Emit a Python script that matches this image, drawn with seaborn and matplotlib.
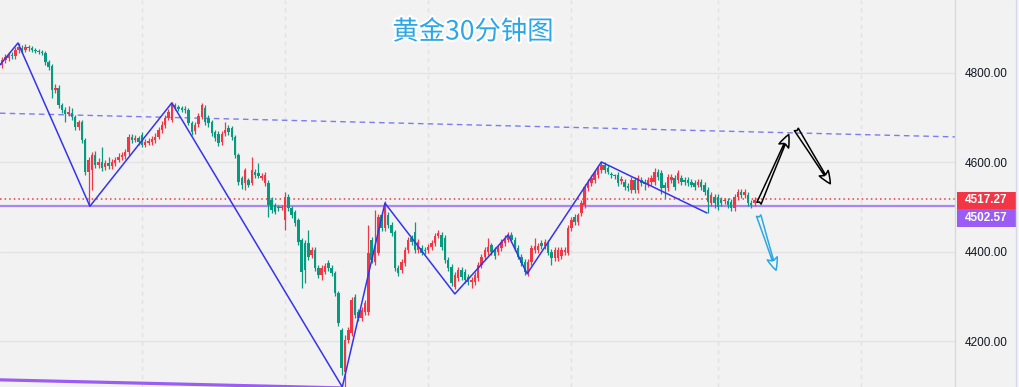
import numpy as np
import matplotlib
matplotlib.use("Agg")
import matplotlib.pyplot as plt
import seaborn as sns
from matplotlib.patches import FancyArrowPatch, Rectangle
import matplotlib.transforms as mtransforms
import matplotlib.patheffects as pe

# ---------------- data (30-min gold candles) ----------------
opens = [4818,4829,4833,4840,4838,4851,4856,4851,4858,4856,
         4851,4849,4847,4845,4824,4815,4762,4766,4728,4717,
         4708,4710,4701,4679,4690,4650,4579,4583,4617,4594,
         4601,4590,4599,4592,4599,4605,4612,4614,4623,4657,
         4650,4655,4661,4639,4643,4646,4650,4657,4672,4684,
         4699,4695,4728,4724,4722,4719,4717,4688,4670,4686,
         4701,4722,4699,4690,4668,4664,4646,4666,4677,4677,
         4657,4617,4565,4554,4561,4554,4579,4576,4565,4554,
         4554,4516,4505,4500,4498,4471,4523,4498,4489,4471,
         4427,4420,4420,4393,4404,4364,4348,4355,4375,4364,
         4353,4308,4225,4132,4203,4219,4299,4266,4252,4266,
         4266,4427,4377,4398,4482,4453,4482,4460,4444,4364,
         4360,4375,4404,4431,4444,4404,4409,4404,4404,4411,
         4420,4436,4438,4431,4382,4366,4322,4342,4360,4355,
         4344,4333,4333,4342,4371,4389,4400,4415,4404,4400,
         4409,4420,4427,4438,4427,4409,4389,4377,4353,4377,
         4404,4404,4420,4413,4420,4400,4386,4386,4391,4400,
         4398,4453,4478,4467,4487,4505,4543,4554,4561,4572,
         4583,4594,4588,4574,4570,4572,4558,4556,4547,4538,
         4561,4538,4561,4556,4552,4556,4556,4579,4576,4550,
         4543,4561,4565,4561,4565,4561,4561,4556,4554,4550,
         4556,4550,4538,4509,4523,4523,4516,4514,4514,4512,
         4498,4523,4534,4527,4527,4509,4509]
closes = [4829,4836,4840,4838,4851,4858,4851,4858,4856,4851,
          4849,4847,4845,4824,4813,4762,4766,4728,4717,4708,
          4713,4701,4679,4690,4650,4579,4605,4617,4594,4601,
          4588,4599,4592,4601,4605,4612,4617,4623,4657,4650,
          4655,4646,4639,4646,4648,4652,4657,4672,4684,4699,
          4713,4733,4724,4719,4717,4717,4688,4668,4684,4704,
          4728,4690,4688,4666,4655,4643,4664,4672,4668,4657,
          4617,4556,4550,4583,4550,4583,4572,4570,4570,4572,
          4505,4494,4489,4498,4500,4523,4498,4482,4465,4422,
          4355,4360,4389,4404,4364,4348,4364,4368,4364,4353,
          4308,4241,4141,4203,4225,4293,4259,4252,4270,4286,
          4398,4382,4404,4478,4453,4509,4460,4442,4364,4353,
          4377,4404,4427,4422,4404,4422,4398,4402,4411,4420,
          4436,4442,4411,4382,4364,4330,4348,4360,4344,4337,
          4333,4337,4348,4371,4389,4404,4411,4400,4391,4409,
          4422,4431,4438,4427,4409,4389,4375,4355,4377,4409,
          4413,4413,4413,4422,4398,4386,4404,4404,4404,4404,
          4453,4471,4467,4482,4509,4545,4556,4565,4576,4588,
          4594,4583,4579,4572,4569,4554,4563,4545,4543,4561,
          4538,4565,4554,4552,4561,4565,4579,4567,4543,4543,
          4567,4567,4545,4576,4556,4556,4554,4550,4545,4556,
          4545,4534,4512,4527,4509,4500,4509,4516,4505,4498,
          4523,4534,4527,4534,4509,4505,4517]
highs = [4836,4842,4847,4846,4858,4867,4862,4865,4863,4860,
         4855,4853,4852,4850,4829,4820,4775,4772,4733,4724,
         4726,4722,4706,4695,4694,4655,4612,4623,4625,4610,
         4634,4606,4612,4608,4612,4620,4624,4630,4664,4664,
         4662,4660,4668,4652,4654,4660,4665,4679,4692,4706,
         4720,4736,4733,4729,4727,4726,4722,4692,4690,4710,
         4733,4728,4706,4695,4673,4670,4670,4690,4684,4682,
         4662,4622,4570,4588,4566,4612,4585,4599,4576,4578,
         4560,4522,4510,4505,4505,4534,4530,4503,4494,4476,
         4432,4426,4449,4410,4410,4370,4370,4375,4382,4370,
         4358,4313,4230,4214,4232,4300,4306,4272,4277,4293,
         4460,4433,4494,4485,4489,4514,4490,4466,4450,4370,
         4384,4410,4433,4438,4467,4428,4415,4410,4417,4426,
         4442,4449,4445,4437,4388,4372,4354,4366,4366,4362,
         4350,4343,4355,4377,4395,4410,4431,4420,4410,4415,
         4428,4437,4444,4444,4433,4415,4395,4383,4383,4415,
         4431,4419,4426,4428,4426,4406,4410,4410,4410,4410,
         4459,4477,4484,4488,4515,4551,4562,4571,4582,4594,
         4601,4600,4594,4579,4575,4578,4569,4562,4553,4567,
         4567,4571,4567,4562,4567,4571,4588,4585,4582,4556,
         4573,4573,4571,4584,4571,4567,4567,4562,4560,4562,
         4562,4556,4544,4533,4529,4529,4522,4521,4520,4518,
         4529,4540,4540,4540,4533,4515,4522]
lows = [4811,4822,4827,4832,4832,4845,4845,4846,4850,4846,
        4844,4842,4840,4818,4806,4744,4755,4722,4710,4690,
        4704,4695,4672,4672,4643,4572,4502,4538,4588,4588,
        4581,4583,4585,4586,4592,4600,4606,4608,4616,4644,
        4645,4640,4634,4634,4638,4640,4644,4652,4666,4678,
        4694,4690,4718,4714,4712,4711,4683,4662,4664,4680,
        4696,4684,4680,4660,4648,4636,4640,4660,4662,4650,
        4610,4550,4540,4538,4545,4550,4566,4565,4560,4548,
        4478,4488,4484,4492,4493,4449,4492,4476,4458,4415,
        4319,4330,4382,4386,4357,4342,4337,4350,4358,4347,
        4302,4235,4125,4098,4196,4212,4252,4245,4245,4260,
        4259,4376,4370,4392,4446,4446,4453,4436,4358,4347,
        4353,4368,4398,4416,4398,4398,4392,4396,4398,4405,
        4414,4430,4405,4376,4358,4324,4316,4336,4338,4330,
        4327,4319,4327,4336,4365,4383,4394,4394,4385,4394,
        4403,4414,4421,4421,4403,4383,4369,4349,4347,4371,
        4398,4398,4407,4407,4392,4371,4380,4380,4385,4394,
        4392,4447,4461,4461,4481,4499,4537,4548,4555,4566,
        4577,4577,4573,4566,4564,4548,4552,4539,4537,4532,
        4532,4532,4548,4538,4546,4550,4550,4561,4530,4520,
        4537,4555,4539,4555,4550,4550,4548,4544,4539,4544,
        4539,4528,4487,4503,4498,4494,4503,4508,4499,4492,
        4492,4517,4521,4521,4503,4499,4503]

# zigzag swing points (bar index, price)
zz_x = [-0.6, 4.8, 26.4, 51.0, 102.2, 115.0, 136.0, 152.0, 157.7, 180.0, 211.7]
zz_y = [4818, 4867, 4502, 4733, 4098, 4509, 4306, 4438, 4351, 4601, 4487]

# trend / level lines
dash_x = [-0.6, 286.2]
dash_y = [4710, 4657]
low_trend_x = [-0.6, 102.0]
low_trend_y = [4114, 4096]
last_price = 4517.27
support = 4502.57

# scenario arrows (bar index, price)
arrow_up = [(227.0, 4503), (236.6, 4668)]
arrow_dn = [(238.1, 4679), (249.2, 4547)]
arrow_alt = [(227.0, 4487), (232.7, 4353)]

yticks = [4200, 4400, 4600, 4800]
vgrid = [42, 85, 128, 171, 215, 258]
title = "黄金30分钟图"

# ---------------- style ----------------
sns.set_theme(style="white")
plt.rcParams['font.family'] = ['Liberation Sans', 'DejaVu Sans']

UP = '#F23645'
DOWN = '#089981'
BG = '#f2f2f2'

W, H = 1019, 387
fig = plt.figure(figsize=(W / 100, H / 100), dpi=100)
fig.patch.set_facecolor(BG)
ax = fig.add_axes([0, 0, 955 / W, 1])
ax.set_facecolor(BG)

o = np.array(opens, float)
c = np.array(closes, float)
hi = np.array(highs, float)
lo = np.array(lows, float)
idx = np.arange(len(o))
cols = np.where(c >= o, UP, DOWN)

# grid
ax.set_yticks(yticks)
ax.set_xticks(vgrid)
ax.yaxis.grid(True, color='#e3e3e3', lw=1)
ax.xaxis.grid(True, color='#e2e2e2', lw=1, ls=(0, (3, 3)))
ax.set_axisbelow(True)

# candles
ax.vlines(idx, lo, hi, colors=cols, lw=0.9, zorder=3)
ax.bar(idx, np.maximum(np.abs(c - o), 2.0), bottom=np.minimum(o, c),
       width=0.74, color=cols, lw=0, zorder=4)

# levels
ax.axhline(last_price, color=UP, lw=1.1, ls=(0, (1, 2)), zorder=2)
ax.axhline(support, color='#a985f5', lw=1.6, zorder=2)
ax.plot(dash_x, dash_y, color='#7c7cf0', lw=1, ls=(0, (4, 3)), zorder=2)
ax.plot(low_trend_x, low_trend_y, color='#9d5cf6', lw=2.3, zorder=2)

# zigzag via seaborn
sns.lineplot(x=zz_x, y=zz_y, sort=False, estimator=None, color='#3434ee',
             lw=1.1, ax=ax, zorder=5)

# arrows
def hollow(p, color):
    a = FancyArrowPatch(p[0], p[1],
                        arrowstyle='fancy,head_length=0.6,head_width=0.5,tail_width=0.22',
                        mutation_scale=15, fc='none', ec=color, lw=1.1, zorder=6)
    ax.add_patch(a)

hollow(arrow_up, 'black')
hollow(arrow_dn, 'black')
hollow(arrow_alt, '#2aa8e6')

# axis styling
for s in ['top', 'left', 'bottom']:
    ax.spines[s].set_visible(False)
ax.spines['right'].set_color('#d9d9d9')
ax.spines['right'].set_linewidth(1)
ax.yaxis.tick_right()
ax.set_yticklabels([f"{v:.2f}" for v in yticks])
ax.tick_params(axis='y', length=0, pad=7, labelsize=8.5, labelcolor='#131722')
ax.tick_params(axis='x', length=0, labelbottom=False)
ax.set_xlabel('')
ax.set_ylabel('')

# price tags
trans = mtransforms.blended_transform_factory(fig.transFigure, ax.transData)
ax.add_patch(Rectangle((957 / W, 4496), 59 / W, 38, transform=trans,
                       fc=UP, ec='none', clip_on=False, zorder=10))
ax.add_patch(Rectangle((957 / W, 4456), 59 / W, 40, transform=trans,
                       fc='#9b5cf6', ec='none', clip_on=False, zorder=10))
ax.text(986 / W, 4515, f"{last_price:.2f}", transform=trans, ha='center',
        va='center', color='white', fontsize=8.5, fontweight='bold', zorder=11)
ax.text(986 / W, 4476, f"{support:.2f}", transform=trans, ha='center',
        va='center', color='white', fontsize=8.5, fontweight='bold', zorder=11)
ax.set_xlim(-0.6, 286.2)
ax.set_ylim(4098, 4963)

# right border line
fig.add_artist(plt.Line2D([1016 / W, 1016 / W], [0, 1], color='#d3d9e8', lw=1))

# title
fig.text(473 / W, 1 - 32 / H, title, fontsize=19, color='#2ba7e6',
         ha='center', va='center', family=['Noto Sans CJK SC', 'DejaVu Sans'],
         path_effects=[pe.withStroke(linewidth=3, foreground='white')])

fig.savefig('out.png', dpi=100, facecolor=BG)
